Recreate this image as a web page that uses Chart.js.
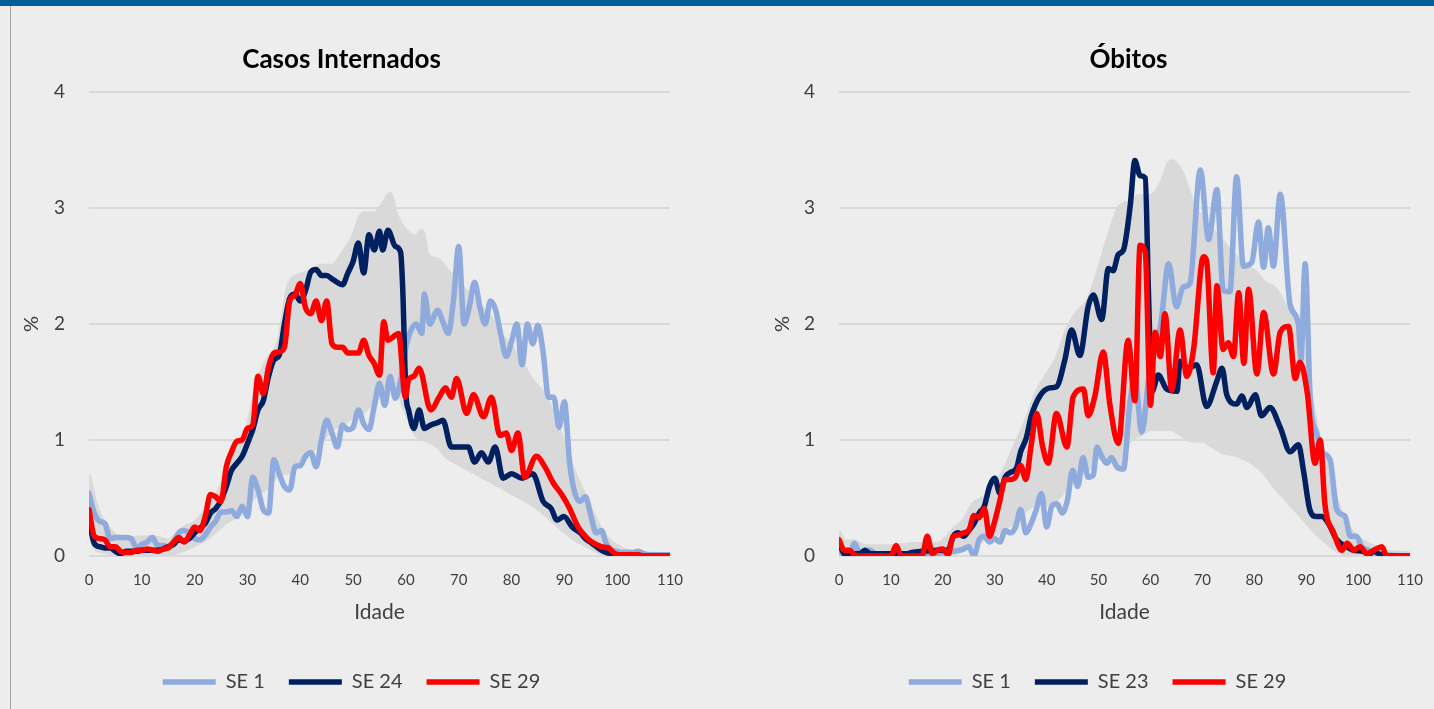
<!DOCTYPE html>
<html>
<head>
<meta charset="utf-8">
<script src="https://cdn.jsdelivr.net/npm/chart.js@4.4.1/dist/chart.umd.min.js"></script>
<style>
  html, body { margin: 0; padding: 0; background: #ededed; }
  body { width: 1434px; height: 709px; position: relative; overflow: hidden; }
  #topbar { position: absolute; left: 0; top: 0; width: 1434px; height: 6px; background: #006097; }
  #frame { position: absolute; left: 10px; top: 6px; width: 1px; height: 703px; background: #a6a6a6; }
  #casos { position: absolute; left: 10px; top: 6px; }
  #obitos { position: absolute; left: 720px; top: 6px; }
</style>
</head>
<body>
<div id="topbar"></div>
<div id="frame"></div>
<canvas id="casos" width="710" height="703"></canvas>
<canvas id="obitos" width="714" height="703"></canvas>
<script>
// axis ticks
const idadeTicks = [0, 10, 20, 30, 40, 50, 60, 70, 80, 90, 100, 110];
const pctTicks = [0, 1, 2, 3, 4];

// ---- Casos Internados (% by age) ----
const casosSE1Idade = [0,1,2,3,4,5,6,7,8,9,10,11,12,13,14,15,16,17,18,19,20,21,22,23,24,25,26,27,28,29,30,31,32,33,34,35,36,37,38,39,40,41,42,43,44,45,46,47,48,49,50,51,52,53,54,55,56,57,58,59,60,61,62,63,63.5,64.5,66,67,68,69,70,71,72,73,74,75,76,77,78,79,80,81,82,83,84,85,86,87,88,89,90,91,92,93,94,95,96,97,98,99,100,101,102,103,104,105,106,107,108,109,110];
const casosSE1 = [0.54,0.37,0.30,0.28,0.15,0.16,0.16,0.16,0.15,0.07,0.10,0.12,0.16,0.09,0.09,0.08,0.12,0.20,0.22,0.20,0.15,0.14,0.18,0.25,0.30,0.38,0.38,0.39,0.34,0.43,0.34,0.68,0.57,0.40,0.37,0.83,0.71,0.60,0.57,0.77,0.78,0.86,0.89,0.77,1.00,1.17,1.06,0.94,1.13,1.09,1.11,1.26,1.14,1.09,1.29,1.49,1.30,1.55,1.36,1.52,1.80,1.95,2.00,1.92,2.26,2.00,2.12,2.02,1.92,2.20,2.67,2.00,2.15,2.36,2.15,2.00,2.20,2.12,1.90,1.72,1.85,2.00,1.65,2.00,1.83,1.99,1.75,1.37,1.37,1.11,1.33,0.80,0.54,0.47,0.51,0.35,0.20,0.22,0.10,0.05,0.04,0.03,0.03,0.03,0.04,0.02,0.01,0.01,0.01,0.01,0.01];

const casosSE24Idade = [0,1,2,3,4,5,6,7,8,9,10,11,12,13,14,15,16,17,18,19,20,21,22,23,24,25,26,27,28,29,30,31,32,33,34,35,36,37,38,39,40,41,42,43,44,45,46,47,48,49,50,51,52,53,54,55,55.6,56.6,58,59,59.4,60,60.5,61.5,62.5,63.5,64.7,66,67,68.6,70.5,71.8,73,74.3,75.6,76.9,78.4,80,82,84,86,87.5,88.6,89.9,91.5,93,94,95.2,97,98,99,100,102,110];
const casosSE24 = [0.31,0.11,0.08,0.07,0.07,0.04,0.02,0.04,0.04,0.04,0.05,0.05,0.05,0.05,0.06,0.08,0.10,0.14,0.13,0.15,0.20,0.24,0.28,0.37,0.41,0.48,0.60,0.74,0.80,0.86,0.97,1.09,1.26,1.34,1.55,1.69,1.73,2.00,2.22,2.26,2.20,2.29,2.45,2.47,2.42,2.42,2.39,2.36,2.34,2.44,2.54,2.70,2.44,2.77,2.64,2.80,2.64,2.81,2.67,2.62,2.30,1.40,1.26,1.10,1.26,1.10,1.13,1.15,1.17,0.94,0.94,0.94,0.81,0.89,0.81,0.94,0.67,0.71,0.67,0.71,0.47,0.41,0.31,0.34,0.25,0.20,0.15,0.11,0.05,0.03,0.02,0.01,0,0];

const casosSE29Idade = [0,1,2,3,4,5,6,7,8,9,10,11,12,13,14,15,16,17,18,19,20,21,22,23,24,25,26,27,28,29,30,31,32,33,34,35,36,37,38,39,40,41,42,43,44,45,46,47,48,49,50,51,52,53,54,55,55.8,56.6,57.6,58.6,59.9,60.5,61.5,62.5,64.7,66.3,67.5,68.6,69.6,71.5,72.8,74.7,76.2,77.8,79,80,81.2,82.5,84.7,86.3,87.9,89.5,91,92.6,94,95.2,97,98.3,99.6,101,104,105,110];
const casosSE29 = [0.40,0.17,0.15,0.14,0.08,0.08,0.04,0.03,0.03,0.05,0.05,0.06,0.05,0.04,0.06,0.07,0.12,0.16,0.12,0.18,0.25,0.22,0.34,0.53,0.51,0.47,0.77,0.90,0.99,1.00,1.10,1.13,1.55,1.40,1.63,1.75,1.76,1.80,2.20,2.25,2.35,2.14,2.09,2.20,2.03,2.20,1.83,1.80,1.80,1.75,1.75,1.75,1.86,1.73,1.66,1.56,2.02,1.86,1.89,1.92,1.37,1.52,1.55,1.62,1.26,1.37,1.45,1.37,1.53,1.23,1.39,1.20,1.37,1.04,1.06,0.91,1.06,0.68,0.86,0.77,0.63,0.53,0.41,0.25,0.17,0.12,0.08,0.07,0.02,0.01,0.01,0,0];

// grey band made by the other weeks (upper and lower edge)
const casosOutrasTopoIdade = [0,1,2,3,5,8,12,15,18,20,22,24,26,28,30,32,34,36,38,40,42,44,46,48,50,52,54,56,57,58,60,62,63,64,66,68,70,72,74,76,78,80,82,84,86,88,90,92,94,96,98,100,102,105,110];
const casosOutrasTopo = [0.68,0.48,0.35,0.28,0.17,0.15,0.16,0.13,0.24,0.28,0.38,0.50,0.70,0.95,1.10,1.50,1.70,1.85,2.35,2.42,2.45,2.50,2.50,2.60,2.75,2.95,2.95,3.05,3.12,2.95,2.80,2.75,2.80,2.60,2.55,2.45,2.35,2.25,2.15,2.05,1.90,1.80,1.65,1.50,1.40,1.20,0.95,0.70,0.50,0.30,0.15,0.08,0.04,0.02,0.01];
const casosOutrasBaseIdade = [0,1,3,6,15,18,20,22,24,26,28,30,32,34,36,38,40,42,44,46,48,50,52,54,56,58,60,62,64,66,68,70,72,74,76,78,80,82,84,86,88,90,92,94,96,98,100,110];
const casosOutrasBase = [0.25,0.08,0.04,0.02,0.02,0.06,0.10,0.15,0.22,0.30,0.35,0.45,0.55,0.60,0.72,0.72,0.82,0.90,1.00,1.10,1.15,1.20,1.25,1.35,1.40,1.45,1.25,1.05,1.00,0.95,0.85,0.80,0.75,0.70,0.65,0.60,0.55,0.50,0.45,0.38,0.30,0.22,0.15,0.10,0.05,0.02,0.01,0];

// ---- Óbitos (% by age) ----
const obitosSE1Idade = [0,1,2,3,4,5,6,7,10,12,14,16,18,20,22,24,25,26,27,28,29,30,31,32,33,34,35,36,37,38,39,40,41,42,43,44,45,46,47,48,49,49.7,50.6,51.6,52.5,53.5,54.8,56,57,58.3,59.9,61,62,63.5,65,66.3,67.6,69.6,71.2,72.8,74,75.3,76.6,77.9,79.5,80.8,81.8,82.7,83.7,85,86.9,88.5,89,89.8,90.8,92,93.3,94.6,95.9,97.5,98.5,99.7,100.7,102,103.6,105,110];
const obitosSE1 = [0.05,0.01,0.01,0.11,0.02,0.05,0.05,0.02,0.01,0.02,0.01,0.02,0.01,0.03,0.04,0.06,0.08,0.00,0.14,0.17,0.12,0.15,0.12,0.22,0.20,0.25,0.40,0.20,0.28,0.40,0.54,0.25,0.43,0.45,0.37,0.48,0.74,0.60,0.85,0.68,0.70,0.94,0.86,0.80,0.85,0.77,0.75,1.30,1.55,1.07,1.62,1.80,2.00,2.52,2.15,2.32,2.35,3.33,2.73,3.16,2.29,2.28,3.27,2.50,2.53,2.88,2.49,2.83,2.50,3.12,2.17,2.00,1.70,2.52,1.34,1.06,0.89,0.83,0.40,0.34,0.17,0.17,0.08,0.05,0.02,0.01,0];

const obitosSE23Idade = [0,1,2,3,4,5,6,10,13,14,16,19,21,22,23,24,25,26,27,28,29,30,31,32,33,34.2,35,36.1,37,38.7,40.6,41.9,43.5,44.8,46.4,48,49,50.6,51.9,52.8,53.8,54.8,56.1,57,58,59,59.6,60.3,61.5,63.1,65.1,65.7,67.3,68.9,70.8,72.8,73.8,74.7,76.6,77.6,78.6,80.2,81.4,83,85,86.9,88.5,89.5,90.7,92,93,94.3,95.9,97.8,99.1,101,102,103,104,105,110];
const obitosSE23 = [0.12,0.02,0.01,0.02,0.02,0.05,0.02,0.02,0.02,0.03,0.04,0.05,0.05,0.17,0.20,0.17,0.22,0.28,0.37,0.43,0.60,0.67,0.54,0.68,0.72,0.76,0.90,1.02,1.20,1.38,1.45,1.46,1.69,1.95,1.73,2.15,2.25,2.04,2.48,2.46,2.60,2.64,3.02,3.41,3.28,3.26,2.30,1.42,1.56,1.44,1.42,1.68,1.62,1.65,1.29,1.51,1.62,1.39,1.31,1.38,1.28,1.39,1.21,1.28,1.11,0.90,0.96,0.73,0.40,0.34,0.34,0.28,0.14,0.08,0.05,0.04,0.01,0.04,0.02,0,0];

const obitosSE29Idade = [0,1,2,3,4,10,11,12,16,17,18,19,20,21,22,23,24,25,26,27,28,29,30,31,32,33,34,35,36,37,38.1,39.2,40.3,41.9,43.9,45.1,47.1,48,49.3,50.9,52.2,53.8,55.7,57,58,59,60,60.9,61.9,62.8,64.1,65.7,67,68.3,70.2,70.8,72.1,72.8,74,75,76,77,78,78.9,80.5,81.8,83.7,85,86.6,87.9,88.8,90.2,91.7,92.7,93.6,95.3,96.9,97.9,99.2,100.4,101.7,103,104.6,105.5,110];
const obitosSE29 = [0.14,0.05,0.05,0.01,0,0,0.09,0,0,0.17,0.02,0.05,0.06,0.01,0.17,0.18,0.20,0.22,0.35,0.33,0.41,0.17,0.30,0.48,0.66,0.66,0.68,0.78,0.66,0.95,1.23,0.95,0.80,1.23,0.94,1.37,1.44,1.21,1.38,1.76,1.30,0.97,1.86,1.34,2.68,2.62,1.30,1.93,1.72,2.09,1.43,1.95,1.55,1.78,2.58,2.55,1.58,2.33,1.78,1.84,1.72,2.27,1.66,2.30,1.57,2.10,1.57,1.93,1.98,1.53,1.67,1.41,0.80,1.00,0.45,0.20,0.05,0.11,0.05,0.08,0.02,0.05,0.08,0,0];

const obitosOutrasTopoIdade = [0,1,3,5,10,15,18,20,22,24,26,28,30,32,34,36,38,40,42,44,46,48,50,52,54,56,58,60,62,64,66,68,70,72,74,76,78,80,82,84,86,88,90,92,94,96,98,100,102,104,106,110];
const obitosOutrasTopo = [0.20,0.12,0.12,0.08,0.08,0.10,0.10,0.12,0.22,0.30,0.45,0.50,0.60,0.75,0.95,1.15,1.40,1.55,1.70,1.95,2.10,2.20,2.45,2.75,3.00,3.05,3.10,3.10,3.20,3.40,3.30,3.05,2.90,2.80,2.70,2.60,2.50,2.45,2.35,2.30,2.15,2.05,1.60,1.10,0.75,0.45,0.25,0.15,0.10,0.06,0.03,0.02];
const obitosOutrasBaseIdade = [0,5,20,22,25,28,30,32,34,36,38,40,42,44,46,48,50,52,54,56,58,60,62,64,66,68,70,72,74,76,78,80,82,84,86,88,90,92,94,96,98,100,110];
const obitosOutrasBase = [0.02,0,0,0.02,0.08,0.15,0.18,0.25,0.30,0.40,0.45,0.45,0.50,0.60,0.70,0.75,0.85,0.85,0.80,1.00,1.05,1.10,1.10,1.10,1.05,1.00,1.00,0.95,0.90,0.88,0.85,0.80,0.72,0.60,0.50,0.40,0.30,0.20,0.12,0.05,0.02,0,0];

const corSE1 = '#8faadc';
const corMeio = '#002060';
const corSE29 = '#ff0000';
const corOutras = '#d9d9d9';

Chart.defaults.font.family = 'Lato, "Open Sans", sans-serif';
Chart.defaults.color = '#404040';

const pts = (ages, vals) => ages.map((a, i) => ({ x: a, y: vals[i] }));

const serie = (label, ages, vals, color, order) => ({
  label, data: pts(ages, vals), order,
  borderColor: color, backgroundColor: color, borderWidth: 5.5,
  borderCapStyle: 'round', borderJoinStyle: 'round',
  pointRadius: 0, pointHoverRadius: 0,
  cubicInterpolationMode: 'monotone', fill: false
});

// title and legend are centred over the plot area, then nudged like the original
const shiftBoxes = {
  id: 'shiftBoxes',
  afterLayout(chart, args, opts) {
    const t = chart.titleBlock, l = chart.legend;
    if (t && opts.title) { t.left += opts.title; t.right += opts.title; }
    if (l && opts.legend) { l.left += opts.legend; l.right += opts.legend; }
  }
};

function makeChart(id, cfg) {
  const bandTop = serie('topo', cfg.topoIdade, cfg.topo, corOutras, 3);
  bandTop.fill = '+1';
  bandTop.borderWidth = 5;
  const bandBase = serie('base', cfg.baseIdade, cfg.base, corOutras, 4);
  bandBase.borderWidth = 5;

  return new Chart(document.getElementById(id), {
    type: 'line',
    data: {
      datasets: [
        serie('SE 1', cfg.se1Idade, cfg.se1, corSE1, 2),
        serie(cfg.meioLabel, cfg.meioIdade, cfg.meio, corMeio, 1),
        serie('SE 29', cfg.se29Idade, cfg.se29, corSE29, 0),
        bandTop,
        bandBase
      ]
    },
    plugins: [shiftBoxes],
    options: {
      responsive: false,
      animation: false,
      devicePixelRatio: 1,
      layout: { padding: { left: 0, right: cfg.padRight, top: 0, bottom: 7 } },
      scales: {
        x: {
          type: 'linear', min: 0, max: 110,
          afterBuildTicks: s => { s.ticks = idadeTicks.map(v => ({ value: v })); },
          afterFit: s => { s.height = 92; },
          ticks: { font: { size: 15 }, color: '#404040', padding: 7, autoSkip: false, maxRotation: 0 },
          grid: { display: false },
          border: { display: false },
          title: { display: true, text: 'Idade', font: { size: 21 }, color: '#404040', padding: { top: 0, bottom: 23 } }
        },
        y: {
          min: 0, max: 4,
          afterBuildTicks: s => { s.ticks = pctTicks.map(v => ({ value: v })); },
          afterFit: s => { s.width = cfg.yWidth; },
          ticks: { font: { size: 19 }, color: '#404040', padding: 24 },
          grid: { color: '#d9d9d9', lineWidth: 2, drawTicks: false },
          border: { display: false },
          title: { display: true, text: '%', font: { size: 20 }, color: '#404040', padding: { top: cfg.pctPad, bottom: 0 } }
        }
      },
      plugins: {
        shiftBoxes: { title: cfg.titleShift, legend: cfg.legendShift },
        title: {
          display: true, text: cfg.titulo, fullSize: false, color: '#000',
          font: { size: 26, weight: 'bold' }, padding: { top: 38, bottom: 17 }
        },
        legend: {
          position: 'bottom', fullSize: false,
          labels: {
            usePointStyle: true, pointStyle: 'line', pointStyleWidth: 53,
            font: { size: 20 }, color: '#404040', padding: 24,
            filter: item => item.datasetIndex < 3,
            sort: (a, b) => a.datasetIndex - b.datasetIndex
          }
        },
        tooltip: { enabled: false }
      }
    }
  });
}

makeChart('casos', {
  titulo: 'Casos Internados',
  se1Idade: casosSE1Idade, se1: casosSE1,
  meioLabel: 'SE 24', meioIdade: casosSE24Idade, meio: casosSE24,
  se29Idade: casosSE29Idade, se29: casosSE29,
  topoIdade: casosOutrasTopoIdade, topo: casosOutrasTopo,
  baseIdade: casosOutrasBaseIdade, base: casosOutrasBase,
  padRight: 50, yWidth: 79, pctPad: 10, titleShift: -38, legendShift: -28
});

makeChart('obitos', {
  titulo: 'Óbitos',
  se1Idade: obitosSE1Idade, se1: obitosSE1,
  meioLabel: 'SE 23', meioIdade: obitosSE23Idade, meio: obitosSE23,
  se29Idade: obitosSE29Idade, se29: obitosSE29,
  topoIdade: obitosOutrasTopoIdade, topo: obitosOutrasTopo,
  baseIdade: obitosOutrasBaseIdade, base: obitosOutrasBase,
  padRight: 24, yWidth: 119, pctPad: 51, titleShift: 4, legendShift: -27
});
</script>
</body>
</html>
